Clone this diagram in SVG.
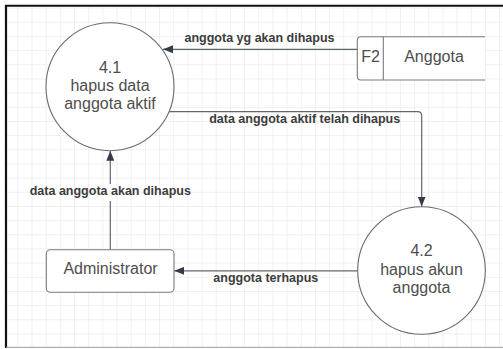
<svg xmlns="http://www.w3.org/2000/svg" width="503" height="349" viewBox="0 0 503 349">
  <style>
    .node { fill: #ffffff; stroke: #6b6b6b; stroke-width: 1.1; }
    .box { fill: #ffffff; stroke: #7a7a7a; stroke-width: 1.1; }
    .ntext { font-family: "Liberation Sans", Arial, sans-serif; font-size: 16px; fill: #4d4d4d; text-anchor: middle; }
    .elabel { font-family: "Liberation Sans", Arial, sans-serif; font-size: 12.5px; font-weight: bold; fill: #3c3c3c; text-anchor: middle; }
    .flow { fill: none; stroke: #62666f; stroke-width: 1.2; }
  </style>
  <defs>
    <pattern id="grid" x="4.13" y="8.53" width="14.17" height="14.17" patternUnits="userSpaceOnUse">
      <path d="M14.17 0 V14.17 M0 14.17 H14.17" fill="none" stroke="#e2e2e2" stroke-width="1"/>
    </pattern>
    <marker id="arrow" viewBox="0 0 10 8" refX="10" refY="4" markerWidth="10" markerHeight="8" markerUnits="userSpaceOnUse" orient="auto">
      <path d="M0 0 L10 4 L0 8 Z" fill="#353b48"/>
    </marker>
  </defs>

  <!-- canvas and frame -->
  <rect x="0" y="0" width="503" height="349" fill="#ffffff"/>
  <rect x="7" y="6.5" width="496" height="340.5" fill="url(#grid)"/>
  <line x1="5" y1="5.8" x2="503" y2="5.8" stroke="#111111" stroke-width="2"/>
  <line x1="6" y1="5" x2="6" y2="348" stroke="#111111" stroke-width="2.2"/>
  <line x1="6" y1="347.3" x2="503" y2="347.3" stroke="#9a9a9a" stroke-width="1"/>

  <!-- connectors -->
  <g id="connectors">
    <line class="flow" x1="357" y1="49.3" x2="163" y2="49.3" marker-end="url(#arrow)"/>
    <path class="flow" d="M169 111.7 H417.7 Q421.7 111.7 421.7 115.7 V206.5" marker-end="url(#arrow)"/>
    <line class="flow" x1="110.3" y1="249.7" x2="110.3" y2="201"/>
    <line class="flow" x1="110.3" y1="184" x2="110.3" y2="150.8" marker-end="url(#arrow)"/>
    <line class="flow" x1="357.7" y1="270.8" x2="174.2" y2="270.8" marker-end="url(#arrow)"/>

    <text class="elabel" x="259.5" y="41.7">anggota yg akan dihapus</text>
    <text class="elabel" x="304.7" y="122.7">data anggota aktif telah dihapus</text>
    <text class="elabel" x="110.3" y="195">data anggota akan dihapus</text>
    <text class="elabel" x="265.8" y="282.3">anggota terhapus</text>
  </g>

  <!-- process 4.1 -->
  <g id="p41">
    <circle class="node" cx="110" cy="86.7" r="64"/>
    <text class="ntext" x="110" y="73">4.1</text>
    <text class="ntext" x="110" y="91">hapus data</text>
    <text class="ntext" x="110" y="109">anggota aktif</text>
  </g>

  <!-- process 4.2 -->
  <g id="p42">
    <circle class="node" cx="421.5" cy="270.5" r="63.8"/>
    <text class="ntext" x="421.5" y="256">4.2</text>
    <text class="ntext" x="421.5" y="274.5">hapus akun</text>
    <text class="ntext" x="421.5" y="293">anggota</text>
  </g>

  <!-- data store F2 -->
  <g id="f2">
    <path d="M485 36.8 H361 Q357.3 36.8 357.3 40.5 V76.3 Q357.3 80 361 80 H485 Z" fill="#ffffff" stroke="none"/>
    <path class="box" d="M485 36.8 H361 Q357.3 36.8 357.3 40.5 V76.3 Q357.3 80 361 80 H485" fill="none"/>
    <line x1="383.3" y1="36.8" x2="383.3" y2="80" stroke="#7a7a7a" stroke-width="1.1"/>
    <text class="ntext" x="370.5" y="61.7">F2</text>
    <text class="ntext" x="434" y="61.7">Anggota</text>
  </g>

  <!-- external entity -->
  <g id="admin">
    <rect class="box" x="46.3" y="249.7" width="127.7" height="42.6" rx="4" ry="4"/>
    <text class="ntext" x="110.5" y="274.3">Administrator</text>
  </g>
</svg>
